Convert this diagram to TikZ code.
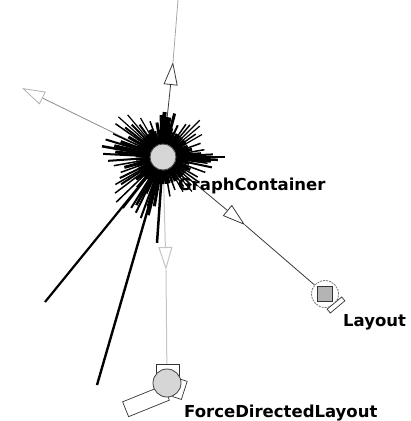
\documentclass[tikz,border=0pt]{standalone}
\usepackage{fontspec}
\newfontfamily\labfont{DejaVu Sans}
\usetikzlibrary{arrows.meta,backgrounds}
\definecolor{nodegray}{HTML}{D6D6D6}
\definecolor{sqgray}{HTML}{B4B4B4}
\definecolor{edgedark}{HTML}{3A3A3A}
\definecolor{edgelight}{HTML}{C4C4C4}
\tikzset{
  gnode/.style={circle, draw=black!75, fill=nodegray, line width=0.8pt, minimum size=#1, inner sep=0pt},
  boxpart/.style={draw=black!80, fill=white, line width=0.7pt, inner sep=0pt},
  lab/.style={font=\labfont\bfseries\fontsize{16.5}{18}\selectfont, inner sep=0pt, anchor=base west},
  hollow/.style={-{Triangle[open,length=23pt,width=14pt]}},
  burst/.style={black, line cap=butt},
}
\begin{document}
\begin{tikzpicture}[x=1pt,y=-1pt]
\useasboundingbox (0,0) rectangle (411,421);
% coordinates
\coordinate (topEnd) at (178,0);
\coordinate (upA) at (173,62);
\coordinate (leftA) at (22,88);
\coordinate (rA) at (245,225);
\coordinate (dA) at (166,270);
\coordinate (ll1) at (45,302);
\coordinate (ll2) at (97,385);
% nodes
\node[gnode=26pt] (gc) at (163,157) {};
% Layout
\node[circle, draw=black!55, dash pattern=on 2pt off 1pt, fill=white, line width=0.8pt, minimum size=27pt, inner sep=0pt] (lay) at (325,294) {};
\node[draw=black!80, fill=sqgray, line width=0.8pt, minimum size=15pt, inner sep=0pt] (laysq) at (325,294) {};
\node[boxpart, rotate=40, minimum width=19pt, minimum height=5pt] (laytab) at (336,305) {};
% ForceDirectedLayout
\node[boxpart, minimum width=23pt, minimum height=20pt] (fdlsq) at (168,374) {};
\node[boxpart, rotate=22, minimum width=44pt, minimum height=16pt] (fdlrect) at (146,401) {};
\node[boxpart, rotate=-18, minimum width=9pt, minimum height=19pt] (fdltab) at (180,389) {};
\node[gnode=28pt] (fdl) at (167,383) {};
% labels
\node[lab] (gclab) at (178,190) {GraphContainer};
\node[lab] (laylab) at (343,326) {Layout};
\node[lab] (fdllab) at (184,417) {ForceDirectedLayout};
\begin{scope}[on background layer]
  % edges
  \draw[edgedark, line width=0.8pt, hollow] (gc) -- (upA);
  \draw[black!35, line width=0.8pt] (upA) -- (topEnd);
  \draw[black!45, line width=0.8pt, -{Triangle[open,length=23pt,width=14pt,color=black!30]}] (gc) -- (leftA);
  \draw[edgedark, line width=0.8pt, hollow] (gc) -- (rA);
  \draw[edgedark, line width=0.8pt] (rA) -- (lay);
  \draw[edgelight, line width=1pt, hollow] (gc) -- (dA);
  \draw[edgelight, line width=1pt] (dA) -- (fdl);
  % long black lines
  \draw[burst, line width=2.2pt] (gc) -- (ll1);
  \draw[burst, line width=2.4pt] (gc) -- (ll2);
  % starburst
  \foreach \a/\l/\w in {0/62/2, 3/55/2.5, 357/50/2, 8/45/1.5, 350/42/1.5, 340/40/1.5,
      330/45/1.2, 320/48/1.2, 315/52/1.2, 305/40/1.5, 295/35/2, 285/45/3, 275/40/4,
      268/42/4, 260/35/3, 250/38/1.5, 240/45/1.2, 230/55/1.2, 222/60/1.2, 215/58/1.5,
      205/55/1.5, 197/60/2, 190/62/2.5, 183/60/2, 176/55/2, 170/50/1.5, 160/45/1.5,
      150/55/1.5, 143/60/1.5, 136/65/1.5, 128/65/1.5, 122/60/2, 116/62/2, 110/65/2,
      104/60/2.5, 94/86/2.5, 80/40/1.5, 70/35/1.5, 60/40/1.2, 50/45/1.2, 40/45/1.2,
      30/40/1.5, 20/45/1.5, 12/50/2, 165/40/3, 200/45/3, 210/40/3, 245/30/4, 285/30/5,
      25/30/3, 345/30/3, 115/40/3, 130/40/3, 140/35/3,
      186/48/3, 193/50/3, 218/48/2, 226/45/2, 234/40/2, 154/48/2, 147/50/2, 119/55/2.5,
      107/52/2.5, 100/50/3, 35/42/1.5, 45/40/1.5, 55/36/1.5, 325/40/1.5, 310/42/1.5,
      5/48/3, 355/38/3, 272/45/4, 279/40/4} {
    \draw[burst, line width=\w pt] (gc) -- ++(\a:\l);
  }
  \foreach \a in {0,7,...,359} {
    \draw[burst, line width=2.6pt] (gc) -- ++(\a:27);
  }
\end{scope}
\end{tikzpicture}
\end{document}
